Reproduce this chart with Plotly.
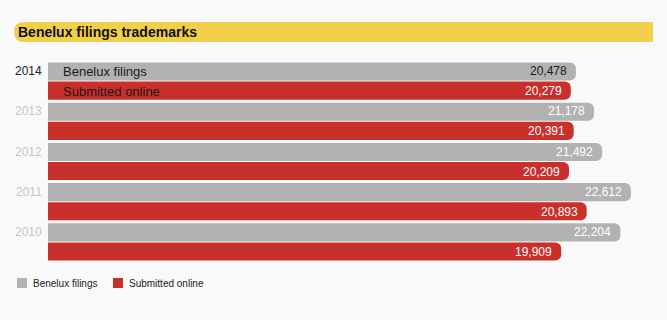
import plotly.graph_objects as go

years = ["2014", "2013", "2012", "2011", "2010"]
benelux = [20478, 21178, 21492, 22612, 22204]
online = [20279, 20391, 20209, 20893, 19909]
series_names = ["Benelux filings", "Submitted online"]
title = "Benelux filings trademarks"

GRAY = "#b2b2b2"
RED = "#c9302b"
BG = "#f9f9f9"
YELLOW = "#f1cf4b"
FONT = "Liberation Sans, Arial, sans-serif"

# plot area in pixels
L, R, T, B = 48, 667, 61, 262
PW, PH = R - L, B - T


def px(x):
    return (x - L) / PW


def py(y):
    return (B - y) / PH


fig = go.Figure()
fig.add_trace(go.Bar(y=years, x=benelux, orientation="h", name=series_names[0],
                     marker=dict(color=GRAY, line=dict(width=0)), hoverinfo="skip"))
fig.add_trace(go.Bar(y=years, x=online, orientation="h", name=series_names[1],
                     marker=dict(color=RED, line=dict(width=0)), hoverinfo="skip"))

ann = []
for i, yr in enumerate(years):
    first = i == 0
    ann.append(dict(x=0, xref="paper", xanchor="right", xshift=-4, y=i, yref="y", yshift=10,
                    text=yr, showarrow=False,
                    font=dict(family=FONT, size=12, color="#222222" if first else "#c6c6c6")))
    ann.append(dict(x=benelux[i], xref="x", xanchor="right", xshift=-7, y=i, yref="y", yshift=10,
                    text=f"{benelux[i]:,}", showarrow=False,
                    font=dict(family=FONT, size=12, color="#1a1a1a" if first else "#ffffff")))
    ann.append(dict(x=online[i], xref="x", xanchor="right", xshift=-7, y=i, yref="y", yshift=-10,
                    text=f"{online[i]:,}", showarrow=False,
                    font=dict(family=FONT, size=12, color="#ffffff")))
    if first:
        ann.append(dict(x=0, xref="x", xanchor="left", xshift=13, y=i, yref="y", yshift=10,
                        text=series_names[0], showarrow=False,
                        font=dict(family=FONT, size=13, color="#1a1a1a")))
        ann.append(dict(x=0, xref="x", xanchor="left", xshift=13, y=i, yref="y", yshift=-10,
                        text=series_names[1], showarrow=False,
                        font=dict(family=FONT, size=13, color="#1a1a1a")))

# title
ann.append(dict(x=px(16), xref="paper", y=py(32), yref="paper", text="<b>" + title + "</b>",
                showarrow=False, xanchor="left", yanchor="middle",
                font=dict(family=FONT, size=14, color="#111111")))

shapes = [dict(type="path", xref="paper", yref="paper",
               path=("M {x0},{y0} L {x1},{y0} L {x1},{y1} L {x0r},{y1} "
                     "Q {x0},{y1} {x0},{ym} Q {x0},{y0} {x0r},{y0} Z").format(
                   x0=px(14), x0r=px(24), x1=px(653),
                   y0=py(42), y1=py(22), ym=py(32)),
               fillcolor=YELLOW, line=dict(width=0), layer="below")]
# manual legend
leg_x = [17, 113]
leg_colors = [GRAY, RED]
for name, lx, col in zip(series_names, leg_x, leg_colors):
    shapes.append(dict(type="rect", xref="paper", yref="paper",
                       x0=px(lx), x1=px(lx + 10), y0=py(288), y1=py(278),
                       fillcolor=col, line=dict(width=0)))
    ann.append(dict(x=px(lx + 14), xref="paper", y=py(283), yref="paper", text=name,
                    showarrow=False, xanchor="left", yanchor="middle",
                    font=dict(family=FONT, size=10, color="#222222")))

fig.update_layout(
    width=667, height=320,
    paper_bgcolor=BG, plot_bgcolor=BG,
    margin=dict(l=L, r=667 - R, t=T, b=320 - B),
    barmode="group", bargap=0.05, bargroupgap=0.05,
    barcornerradius=6,
    xaxis=dict(range=[0, 24010], visible=False, fixedrange=True),
    yaxis=dict(type="category", range=[len(years) - 0.5, -0.5], autorange=False,
               showticklabels=False, showgrid=False,
               zeroline=False, fixedrange=True, categoryorder="array", categoryarray=years),
    showlegend=False,
    annotations=ann,
    shapes=shapes,
)
fig.write_html("out.html")
